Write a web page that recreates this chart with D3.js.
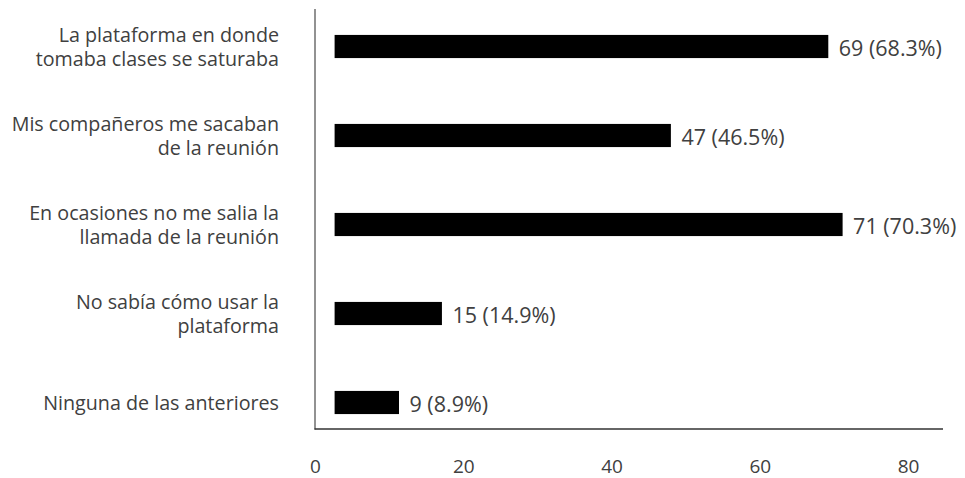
<!DOCTYPE html>
<html><head><meta charset="utf-8">
<script src="https://cdn.jsdelivr.net/npm/d3@7"></script>
<style>body{margin:0;background:#fff}svg{display:block}</style>
</head><body>
<svg id="c" width="965" height="478"></svg>
<script>
const categories = [
  ["La plataforma en donde", "tomaba clases se saturaba"],
  ["Mis compañeros me sacaban", "de la reunión"],
  ["En ocasiones no me salia la", "llamada de la reunión"],
  ["No sabía cómo usar la", "plataforma"],
  ["Ninguna de las anteriores"]
];
const values = [69, 47, 71, 15, 9];
const percents = ["68.3%", "46.5%", "70.3%", "14.9%", "8.9%"];
const ticks = [0, 20, 40, 60, 80];

const svg = d3.select("#c");
const font = "'Open Sans', 'Noto Sans', sans-serif";
const txt = "#404040";

const x = d3.scaleLinear().domain([0, 80]).range([315, 908]);
const xb = d3.scaleLinear().domain([0, 80]).range([334.6, 907]);
const y = d3.scaleBand().domain(d3.range(categories.length)).range([2, 447]).paddingInner(0.74).paddingOuter(0.37);

// axes lines
svg.append("line").attr("x1", 315).attr("x2", 315).attr("y1", 9).attr("y2", 429.5)
  .attr("stroke", "#6e6e6e").attr("stroke-width", 1.5);
svg.append("line").attr("x1", 314.5).attr("x2", 943).attr("y1", 429).attr("y2", 429)
  .attr("stroke", "#333").attr("stroke-width", 1.5);

// bars
svg.selectAll("rect.bar").data(values).join("rect")
  .attr("x", xb(0)).attr("y", (d, i) => y(i))
  .attr("width", d => xb(d) - xb(0)).attr("height", y.bandwidth())
  .attr("fill", "#000");

// value labels
svg.selectAll("text.val").data(values).join("text")
  .attr("x", d => xb(d) + 10.5).attr("y", (d, i) => y(i) + y.bandwidth() / 2 + 9.5)
  .attr("font-family", font).attr("font-size", 21.5).attr("fill", txt)
  .text((d, i) => `${d} (${percents[i]})`);

// category labels
const lh = 24.5;
categories.forEach((lines, i) => {
  const cy = y(i) + y.bandwidth() / 2;
  const t = svg.append("text").attr("text-anchor", "end").attr("font-family", font)
    .attr("font-size", 19.7).attr("fill", txt);
  lines.forEach((l, k) => {
    t.append("tspan").attr("x", 279).attr("y", cy + (k - (lines.length - 1) / 2) * lh + 7.5)
      .text(l);
  });
});

// tick labels
const axis = d3.axisBottom(x).tickValues(ticks).tickSize(0).tickPadding(0);
const g = svg.append("g").attr("transform", "translate(0,472.5)").call(axis);
g.select(".domain").remove();
g.selectAll("text").attr("font-family", font).attr("font-size", 19).attr("fill", txt)
  .attr("dy", "0").attr("y", 0);
</script>
</body></html>
